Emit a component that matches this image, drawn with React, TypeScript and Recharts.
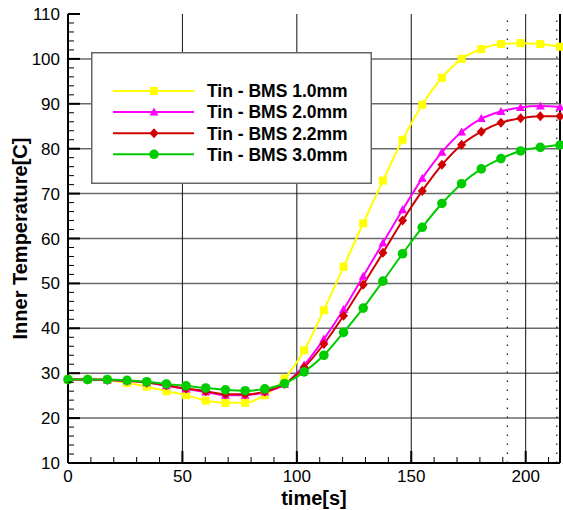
import React from 'react';
import { LineChart, Line, XAxis, YAxis, ReferenceLine, Legend } from 'recharts';

const timeValues = [0, 8.6, 17.2, 25.8, 34.4, 43, 51.6, 60.2, 68.8, 77.4, 86, 94.6, 103.2, 111.8, 120.4, 129, 137.6, 146.2, 154.8, 163.4, 172, 180.6, 189.2, 197.8, 206.4, 215];

const bms10 = [28.6, 28.6, 28.5, 27.8, 27.0, 26.0, 25.1, 23.9, 23.4, 23.4, 25.1, 28.8, 35.1, 44.0, 53.7, 63.4, 72.9, 82.0, 89.8, 95.8, 100.0, 102.2, 103.3, 103.5, 103.3, 102.7];
const bms20 = [28.6, 28.6, 28.5, 28.3, 27.9, 27.2, 26.5, 25.8, 25.1, 25.1, 25.8, 27.5, 31.8, 37.6, 44.2, 51.6, 59.0, 66.4, 73.4, 79.2, 83.7, 86.7, 88.3, 89.2, 89.5, 89.3];
const bms22 = [28.6, 28.6, 28.5, 28.3, 27.9, 27.3, 26.6, 26.0, 25.3, 25.3, 25.9, 27.6, 31.3, 36.5, 42.8, 49.7, 56.8, 64.0, 70.6, 76.4, 80.9, 83.8, 85.8, 86.8, 87.2, 87.2];
const bms30 = [28.6, 28.6, 28.6, 28.4, 28.1, 27.6, 27.2, 26.7, 26.3, 26.1, 26.5, 27.7, 30.3, 34.0, 39.1, 44.5, 50.5, 56.6, 62.5, 67.8, 72.2, 75.5, 77.8, 79.5, 80.3, 80.8];

const xTicks = [0, 10, 20, 30, 40, 50, 60, 70, 80, 90, 100, 110, 120, 130, 140, 150, 160, 170, 180, 190, 200, 210];
const xGrid = [50, 100, 150, 200];
const yTicks = [10, 12, 14, 16, 18, 20, 22, 24, 26, 28, 30, 32, 34, 36, 38, 40, 42, 44, 46, 48, 50, 52, 54, 56, 58, 60, 62, 64, 66, 68, 70, 72, 74, 76, 78, 80, 82, 84, 86, 88, 90, 92, 94, 96, 98, 100, 102, 104, 106, 108, 110];
const yGrid = [20, 30, 40, 50, 60, 70, 80, 90, 100];
const dottedX = [192, 213.6];

const series = [
  { key: 'bms10', name: 'Tin - BMS 1.0mm', color: '#ffff00', shape: 'square', values: bms10 },
  { key: 'bms20', name: 'Tin - BMS 2.0mm', color: '#ff00ff', shape: 'triangle', values: bms20 },
  { key: 'bms22', name: 'Tin - BMS 2.2mm', color: '#d00000', shape: 'diamond', values: bms22 },
  { key: 'bms30', name: 'Tin - BMS 3.0mm', color: '#00cc00', shape: 'circle', values: bms30 },
];

const data = timeValues.map((t, i) => {
  const row: Record<string, number> = { t };
  series.forEach((s) => (row[s.key] = s.values[i]));
  return row;
});

const FONT = '"Liberation Sans", Arial, sans-serif';

function Marker({ shape, cx, cy, color }: { shape: string; cx: number; cy: number; color: string }) {
  if (shape === 'square') return <rect x={cx - 4} y={cy - 4} width={8} height={8} fill={color} />;
  if (shape === 'triangle')
    return <polygon points={`${cx},${cy - 4.5} ${cx + 4.5},${cy + 3.5} ${cx - 4.5},${cy + 3.5}`} fill={color} />;
  if (shape === 'diamond')
    return <polygon points={`${cx},${cy - 5} ${cx + 4.5},${cy} ${cx},${cy + 5} ${cx - 4.5},${cy}`} fill={color} />;
  return <circle cx={cx} cy={cy} r={4.8} fill={color} />;
}

const makeDot = (shape: string, color: string) => (props: any) => {
  const { cx, cy, index } = props;
  if (cx == null || cy == null) return <g key={index} />;
  return <Marker key={index} shape={shape} cx={cx} cy={cy} color={color} />;
};

const BottomTick = (props: any) => {
  const { x, y, payload } = props;
  const major = payload.value % 50 === 0;
  return (
    <g>
      <line x1={x} x2={x} y1={y} y2={y - (major ? 12 : 6)} stroke="#000" strokeWidth={major ? 2 : 1} />
      {major && (
        <text x={x} y={y + 19} textAnchor="middle" fontSize={17} fontFamily={FONT} fill="#000">
          {payload.value}
        </text>
      )}
    </g>
  );
};

const TopTick = (props: any) => {
  const { x, y, payload } = props;
  if (payload.value % 50 === 0) return <g />;
  return <line x1={x} x2={x} y1={y} y2={y + 10} stroke="#000" strokeWidth={1.2} strokeDasharray="1.5 7.5" />;
};

const LeftTick = (props: any) => {
  const { x, y, payload } = props;
  const major = payload.value % 10 === 0;
  return (
    <g>
      <line x1={x} x2={x + (major ? 12 : 6)} y1={y} y2={y} stroke="#000" strokeWidth={major ? 2 : 1} />
      {major && (
        <text x={x - 8} y={y + 6} textAnchor="end" fontSize={17} fontFamily={FONT} fill="#000">
          {payload.value}
        </text>
      )}
    </g>
  );
};

const LegendBox = () => (
  <svg width={281} height={132} style={{ display: 'block' }}>
    <rect x={0.75} y={0.75} width={279.5} height={130.5} fill="#fff" stroke="#666" strokeWidth={1.5} />
    {series.map((s, i) => {
      const cy = 39 + i * 21.1;
      return (
        <g key={s.key}>
          <line x1={22} x2={103} y1={cy} y2={cy} stroke={s.color} strokeWidth={2} />
          <Marker shape={s.shape} cx={63} cy={cy} color={s.color} />
          <text x={116} y={cy + 6.3} fontSize={17.5} fontWeight="bold" fontFamily={FONT} fill="#000">
            {s.name}
          </text>
        </g>
      );
    })}
  </svg>
);

export default function App() {
  return (
    <div style={{ position: 'absolute', left: 0, top: 0, background: '#fff' }}>
      <LineChart width={563} height={510} data={data} margin={{ top: 14, right: 3, left: 8, bottom: 7 }}>
        {yGrid.map((v) => (
          <ReferenceLine key={'h' + v} y={v} stroke="#6a6a6a" strokeWidth={1.5} />
        ))}
        {xGrid.map((v) => (
          <ReferenceLine key={'v' + v} x={v} stroke="#111" strokeWidth={1} />
        ))}
        {dottedX.map((v) => (
          <ReferenceLine key={'d' + v} x={v} stroke="#222" strokeWidth={1.3} strokeDasharray="1.5 7.5" />
        ))}
        <XAxis
          dataKey="t"
          type="number"
          domain={[0, 215]}
          ticks={xTicks}
          interval={0}
          height={40}
          tickSize={0}
          tickMargin={0}
          tickLine={false}
          axisLine={{ stroke: '#000', strokeWidth: 2 }}
          tick={<BottomTick />}
          label={({ viewBox }: any) => (
            <text
              x={viewBox.x + viewBox.width / 2}
              y={viewBox.y + 42}
              textAnchor="middle"
              fontSize={20}
              fontWeight="bold"
              fontFamily={FONT}
              fill="#000"
            >
              time[s]
            </text>
          )}
        />
        <XAxis
          xAxisId="top"
          orientation="top"
          dataKey="t"
          type="number"
          domain={[0, 215]}
          ticks={xTicks}
          interval={0}
          height={0}
          tickSize={0}
          tickMargin={0}
          tickLine={false}
          axisLine={{ stroke: '#000', strokeWidth: 2 }}
          tick={<TopTick />}
        />
        <YAxis
          type="number"
          domain={[10, 110]}
          ticks={yTicks}
          interval={0}
          width={60}
          tickSize={0}
          tickMargin={0}
          tickLine={false}
          axisLine={{ stroke: '#000', strokeWidth: 2 }}
          tick={<LeftTick />}
          label={({ viewBox }: any) => {
            const cx = viewBox.x + 12;
            const cy = viewBox.y + viewBox.height / 2;
            return (
              <text
                x={cx}
                y={cy}
                transform={`rotate(-90, ${cx}, ${cy})`}
                textAnchor="middle"
                dominantBaseline="central"
                fontSize={20}
                fontWeight="bold"
                fontFamily={FONT}
                fill="#000"
              >
                Inner Temperature[C]
              </text>
            );
          }}
        />
        <ReferenceLine x={215} stroke="#000" strokeWidth={2} />
        {series.map((s) => (
          <Line
            key={s.key}
            dataKey={s.key}
            name={s.name}
            type="monotone"
            stroke={s.color}
            strokeWidth={2}
            dot={makeDot(s.shape, s.color)}
            activeDot={false}
            isAnimationActive={false}
          />
        ))}
        <Legend
          layout="vertical"
          align="center"
          verticalAlign="middle"
          content={() => <LegendBox />}
          wrapperStyle={{ left: 91, top: 52, width: 281, height: 132 }}
        />
      </LineChart>
    </div>
  );
}
